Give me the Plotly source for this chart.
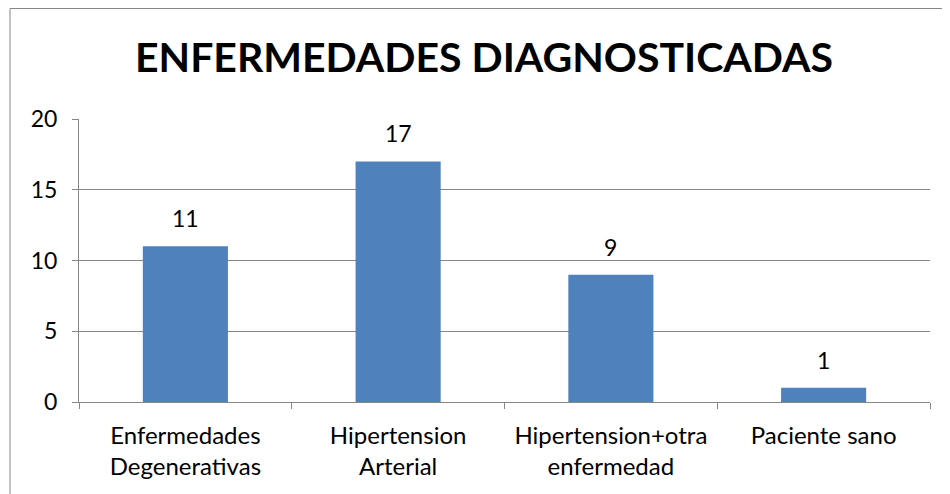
import plotly.graph_objects as go

# Datos
categorias = ['Enfermedades<br>Degenerativas', 'Hipertension<br>Arterial',
              'Hipertension+otra<br>enfermedad', 'Paciente sano']
valores = [11, 17, 9, 1]
y_ticks = [0, 5, 10, 15, 20]

COLOR_BAR = '#4F81BD'
COLOR_GRID = '#868686'
FONT = 'Lato'

# la página añade 8px de margen al cuerpo
W, H = 950, 494
L, R, T, B = 71, 28, 111, 100

def px_x(p):
    return (p - L) / (W - L - R)

def px_y(p):
    return 1 - (p - T) / (H - T - B)

fig = go.Figure()
fig.add_trace(go.Bar(
    x=categorias,
    y=valores,
    marker_color=COLOR_BAR,
    marker_line_width=0,
    width=0.4,
))

# Etiquetas de valor encima de las barras
for c, v in zip(categorias, valores):
    fig.add_annotation(x=c, y=v, text=str(v), showarrow=False,
                       yanchor='bottom', yshift=12,
                       font=dict(family=FONT, size=23, color='black'))

fig.update_layout(
    width=W, height=H,
    margin=dict(l=L, r=R, t=T, b=B),
    paper_bgcolor='white',
    plot_bgcolor='white',
    showlegend=False,
    font=dict(family=FONT, size=23, color='black'),
    title=dict(
        text='<b>ENFERMEDADES DIAGNOSTICADAS</b>',
        x=476 / W, xanchor='center',
        y=1 - 50 / H, yanchor='middle',
        font=dict(family=FONT, size=41, color='black'),
    ),
    xaxis=dict(
        showline=True, linecolor=COLOR_GRID, linewidth=1,
        ticks='outside', tickson='boundaries', ticklen=6, tickcolor=COLOR_GRID,
        showgrid=False, ticklabelstandoff=12,
        tickfont=dict(family=FONT, size=24, color='black'),
    ),
    yaxis=dict(
        range=[0, 20], tickvals=y_ticks,
        showline=True, linecolor=COLOR_GRID, linewidth=1,
        ticks='outside', ticklen=6, tickcolor=COLOR_GRID,
        showgrid=True, gridcolor=COLOR_GRID, gridwidth=1,
        zeroline=False, ticklabelstandoff=10,
    ),
    shapes=[
        dict(type='line', xref='paper', yref='paper',
             x0=px_x(2), x1=px_x(2), y0=px_y(0.5), y1=px_y(494),
             line=dict(color=COLOR_GRID, width=1)),
        dict(type='line', xref='paper', yref='paper',
             x0=px_x(2), x1=px_x(950), y0=px_y(0.5), y1=px_y(0.5),
             line=dict(color=COLOR_GRID, width=1)),
    ],
)

fig.write_html('out.html')
